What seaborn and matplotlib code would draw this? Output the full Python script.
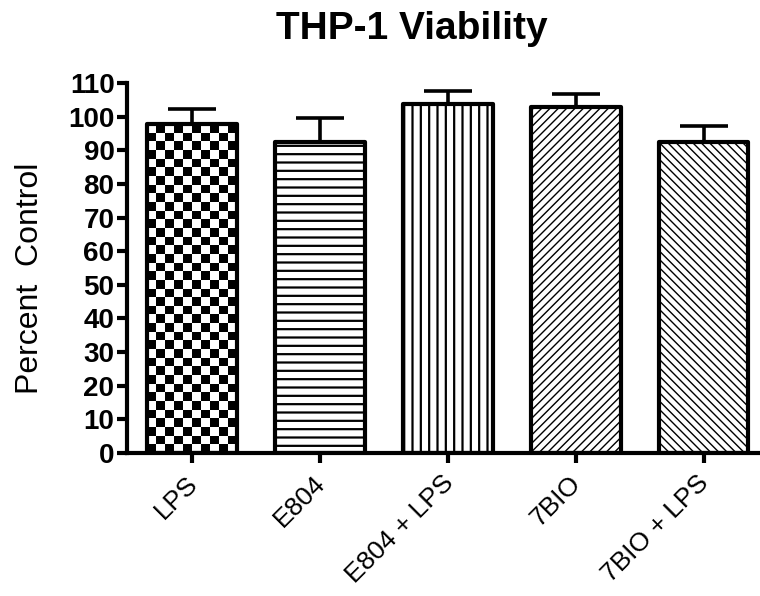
import numpy as np
import matplotlib
matplotlib.use("Agg")
import matplotlib.pyplot as plt
import matplotlib.transforms as mtransforms
import seaborn as sns

categories = ["LPS", "E804", "E804 + LPS", "7BIO", "7BIO + LPS"]
means = [97.8, 92.5, 103.7, 102.8, 92.4]
errors = [4.4, 7.0, 3.9, 3.8, 4.9]
yticks = list(range(0, 111, 10))
title = "THP-1 Viability"
ylabel = "Percent  Control"

sns.set_theme(style="ticks")
plt.rcParams["font.family"] = ["Liberation Sans", "DejaVu Sans"]
plt.rcParams["hatch.linewidth"] = 1.4
plt.rcParams["hatch.color"] = "black"
for k in ["text.color", "axes.labelcolor", "xtick.color", "ytick.color"]:
    plt.rcParams[k] = "black"

fig = plt.figure(figsize=(7.6, 5.96), dpi=100)
ax = fig.add_axes([127 / 760, 1 - 453 / 596, (760 - 127) / 760, (453 - 83) / 596])

sns.barplot(x=categories, y=means, ax=ax, width=0.7, color="white",
            edgecolor="black", linewidth=3, errorbar=None, saturation=1)

hatches = [None, "--", "||", "////", "\\\\\\\\"]
hatch_lw = [None, 1.6, 1.6, 1.0, 1.0]
for p, h, hl in zip(ax.patches, hatches, hatch_lw):
    p.set_joinstyle("round")
    if h:
        p.set_hatch(h)
        if hasattr(p, "set_hatch_linewidth"):
            p.set_hatch_linewidth(hl)

# checkerboard texture for first bar
p0 = ax.patches[0]
x0 = p0.get_x(); w = p0.get_width(); h0 = p0.get_height()
nx, ny = 10, 38
checker = (np.add.outer(np.arange(ny), np.arange(nx)) % 2).astype(float)
p0.set_facecolor("none")
im = ax.imshow(checker, extent=[x0, x0 + w, 0, h0], cmap="gray",
               interpolation="nearest", aspect="auto", zorder=0.8, origin="lower")
im.set_clip_path(p0)

ax.errorbar(x=np.arange(len(categories)), y=means,
            yerr=[np.zeros(len(errors)), errors], fmt="none", ecolor="black",
            elinewidth=2.6, capsize=17, capthick=2.6, zorder=0.5)

ax.set_xlim(-0.51, 4.44)
ax.set_ylim(0, 110)
ax.set_yticks(yticks)
ax.set_yticklabels([str(t) for t in yticks], fontsize=20, fontweight="bold")
ax.set_xticks(range(len(categories)))
ax.set_xticklabels(categories, rotation=45, ha="right", rotation_mode="anchor",
                   fontsize=19)
ax.tick_params(axis="y", direction="out", length=7, width=3, color="black", pad=2)
ax.tick_params(axis="x", direction="out", length=7, width=3, color="black", pad=6)
off = mtransforms.ScaledTranslation(-5 / 72, 0, fig.dpi_scale_trans)
for lab in ax.get_xticklabels():
    lab.set_transform(lab.get_transform() + off)
for s in ["top", "right"]:
    ax.spines[s].set_visible(False)
for s in ["left", "bottom"]:
    ax.spines[s].set_linewidth(3)
    ax.spines[s].set_color("black")

ax.set_ylabel(ylabel, fontsize=23)
ax.yaxis.set_label_coords(-0.13, 0.473)
ax.set_xlabel("")
fig.text(412 / 760, 1 - 29 / 596, title, fontsize=28, fontweight="bold",
         ha="center", va="center")

fig.savefig("out.png", dpi=100)
